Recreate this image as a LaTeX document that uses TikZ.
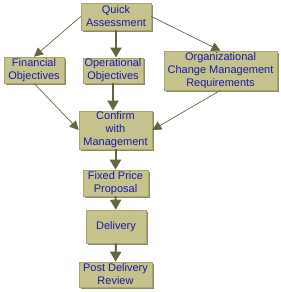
\documentclass[tikz,border=0pt]{standalone}
\usepackage{fontspec}
\setmainfont{Liberation Sans}
\usetikzlibrary{arrows.meta,shadows}
\definecolor{boxfill}{HTML}{C6C28C}
\definecolor{boxedge}{HTML}{8E8B5E}
\definecolor{arrowcol}{HTML}{666642}
\definecolor{textblue}{HTML}{1A1AA8}

\tikzset{
  task/.style={fill=boxfill, draw=boxfill!85!black, line width=0.6pt, inner sep=1pt,
    align=center, text=textblue, font=\fontsize{11}{13}\selectfont,
    drop shadow={shadow xshift=1.5pt, shadow yshift=-1.5pt, fill=boxedge, opacity=1}},
  flow/.style={draw=arrowcol, line width=2pt, -{Triangle[length=10pt,width=11pt]}},
  side/.style={draw=arrowcol, line width=0.7pt, -{Triangle[length=9pt,width=9pt]}}
}

\begin{document}
\begin{tikzpicture}[x=1pt,y=-1pt]
\useasboundingbox[fill=white] (0,0) rectangle (281,292);
\node[task, minimum width=70pt, minimum height=27pt] (qa) at (116,16.5) {Quick\\Assessment};
\node[task, minimum width=60pt, minimum height=26pt] (fo) at (34,70) {Financial\\Objectives};
\node[task, minimum width=60pt, minimum height=25pt] (oo) at (113,70.5) {Operational\\Objectives};
\node[task, minimum width=113pt, minimum height=39pt] (org) at (220.5,70.5) {Organizational\\Change Management\\Requirements};
\node[task, minimum width=73pt, minimum height=36pt] (cm) at (115.5,130) {Confirm\\with\\Management};
\node[task, minimum width=65pt, minimum height=26pt] (fpp) at (115.5,183) {Fixed Price\\Proposal};
\node[task, minimum width=60pt, minimum height=33pt] (del) at (116,226.5) {Delivery};
\node[task, minimum width=73pt, minimum height=25pt] (pdr) at (115.5,274.5) {Post Delivery\\Review};
% arrows
\draw[flow] (qa) -- (qa |- oo.north);
\draw[side] (qa.west) -- (fo.north);
\draw[side] (qa.east) -- (org.north);
\draw[flow] (oo) -- (oo |- cm.north);
\draw[side] (fo.south) -- (cm.west);
\draw[side] (org.south) -- (cm.east);
\draw[flow] (cm) -- (fpp);
\draw[flow] (fpp) -- (del);
\draw[flow] (del) -- (pdr);
\end{tikzpicture}
\end{document}
